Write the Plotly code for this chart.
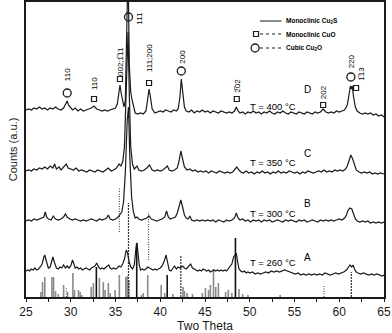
import plotly.graph_objects as go

# ---------------- data (counts in arbitrary units) ----------------
D_pts = [(25.0,187),(25.3,188),(25.6,187),(25.9,189),(26.2,188),(26.5,190),(26.8,188),(27.1,189),(27.4,187),(27.7,189),
(28.0,188),(28.3,190),(28.6,188),(28.9,187),(29.2,189),(29.45,193),(29.6,196),(29.75,192),(29.95,190),(30.2,187),(30.5,189),
(30.8,186),(31.1,188),(31.4,186),(31.7,187),(32.0,188),(32.3,189),(32.6,191),(32.9,188),(33.2,187),(33.5,186),(33.8,187),
(34.1,186),(34.4,187),(34.7,188),(35.0,189),(35.2,193),(35.4,207),(35.5,212),(35.65,203),(35.85,191),(35.95,190),(36.1,197),
(36.25,240),(36.4,330),(36.55,230),(36.7,205),(36.85,197),(37.0,190),(37.2,184),(37.5,183),(37.8,184),(38.1,183),(38.4,186),
(38.6,198),(38.75,208),(38.9,200),(39.1,188),(39.4,184),(39.7,185),(40.0,186),(40.3,185),(40.6,187),(40.9,186),(41.2,185),
(41.5,187),(41.8,186),(42.0,188),(42.2,200),(42.35,218),(42.5,205),(42.7,190),(42.9,186),(43.2,185),(43.5,187),(43.8,184),
(44.1,186),(44.4,185),(44.7,187),(45.0,185),(45.3,186),(45.6,184),(45.9,186),(46.2,185),(46.5,184),(46.8,186),(47.1,185),
(47.4,184),(47.7,185),(48.0,184),(48.3,186),(48.5,190),(48.7,186),(48.9,184),(49.2,185),(49.5,183),(49.8,185),(50.1,184),
(50.4,186),(50.7,184),(51.0,185),(51.3,183),(51.6,185),(51.9,184),(52.2,186),(52.5,184),(52.8,183),(53.1,185),(53.4,184),
(53.7,186),(54.0,184),(54.3,183),(54.6,185),(54.9,184),(55.2,183),(55.5,185),(55.8,184),(56.1,183),(56.4,185),(56.7,184),
(57.0,183),(57.3,185),(57.6,184),(57.9,185),(58.2,188),(58.5,185),(58.8,184),(59.1,185),(59.4,184),(59.7,186),(60.0,185),
(60.3,186),(60.6,187),(60.9,192),(61.1,202),(61.25,211),(61.35,208),(61.45,211),(61.6,200),(61.8,190),(62.0,186),(62.3,184),
(62.6,183),(62.9,184),(63.2,183),(63.5,184),(63.8,182),(64.1,183),(64.4,181),(64.7,182),(65.0,180)]

C_pts = [(25.0,126),(25.3,127),(25.6,126),(25.9,128),(26.2,127),(26.5,129),(26.8,128),(27.1,130),(27.4,128),(27.7,131),
(28.0,129),(28.2,133),(28.4,128),(28.7,130),(28.9,127),(29.2,130),(29.5,133),(29.7,129),(30.0,128),(30.3,127),(30.6,129),
(30.9,126),(31.2,127),(31.5,126),(31.8,125),(32.1,127),(32.4,126),(32.7,125),(33.0,127),(33.3,126),(33.6,125),(33.9,127),
(34.2,129),(34.5,126),(34.8,127),(35.1,129),(35.4,133),(35.6,131),(35.8,135),(36.0,150),(36.2,200),(36.4,265),(36.55,200),
(36.7,150),(36.9,133),(37.1,128),(37.4,131),(37.6,127),(37.9,126),(38.2,127),(38.5,129),(38.8,132),(39.1,127),(39.4,126),
(39.7,127),(40.0,126),(40.3,127),(40.6,129),(40.8,131),(41.0,127),(41.3,126),(41.6,127),(41.9,129),(42.1,136),(42.3,146),
(42.5,138),(42.7,130),(43.0,127),(43.3,128),(43.6,126),(43.9,127),(44.2,125),(44.5,126),(44.8,125),(45.1,126),(45.4,124),
(45.7,126),(46.0,125),(46.3,124),(46.6,126),(46.9,125),(47.2,124),(47.5,125),(47.8,124),(48.1,125),(48.4,128),(48.55,130),
(48.8,127),(49.0,125),(49.3,124),(49.6,126),(49.9,124),(50.2,125),(50.5,123),(50.8,125),(51.1,124),(51.4,126),(51.7,124),
(52.0,125),(52.3,123),(52.6,125),(52.9,124),(53.2,126),(53.5,124),(53.8,125),(54.1,124),(54.4,126),(54.7,125),(55.0,124),
(55.3,125),(55.6,123),(55.9,125),(56.2,124),(56.5,126),(56.8,125),(57.1,124),(57.4,125),(57.7,126),(58.0,125),(58.3,127),
(58.6,125),(58.9,126),(59.2,125),(59.5,127),(59.8,126),(60.1,127),(60.4,126),(60.7,128),(60.9,131),(61.1,137),(61.3,142),
(61.5,138),(61.7,131),(61.9,127),(62.2,125),(62.5,124),(62.8,125),(63.1,124),(63.4,125),(63.7,123),(64.0,124),(64.3,123),
(64.6,124),(65.0,123)]

B_pts = [(25.0,76),(25.3,77),(25.6,76),(25.9,78),(26.2,77),(26.5,78),(26.8,79),(27.0,80),(27.15,85),(27.3,80),(27.5,78),
(27.8,77),(28.05,81),(28.3,78),(28.6,77),(28.9,78),(29.2,80),(29.4,83),(29.6,80),(29.9,78),(30.2,77),(30.5,78),(30.8,77),
(31.1,76),(31.4,77),(31.7,76),(32.0,77),(32.3,78),(32.6,77),(32.9,76),(33.2,78),(33.5,77),(33.8,78),(34.0,79),(34.2,82),
(34.4,78),(34.7,77),(35.0,78),(35.3,80),(35.5,83),(35.7,85),(35.9,95),(36.1,125),(36.3,175),(36.45,190),(36.6,140),(36.8,100),
(37.0,85),(37.2,79),(37.4,80),(37.6,78),(37.9,77),(38.2,78),(38.5,79),(38.75,81),(39.0,78),(39.3,77),(39.6,76),(39.9,77),
(40.2,78),(40.5,80),(40.7,86),(40.9,80),(41.1,78),(41.4,79),(41.7,80),(41.9,84),(42.1,92),(42.3,97),(42.5,90),(42.7,82),
(42.9,79),(43.1,78),(43.3,81),(43.5,77),(43.8,76),(44.1,77),(44.4,76),(44.7,77),(45.0,76),(45.3,77),(45.6,76),(45.9,77),
(46.2,75),(46.5,77),(46.8,76),(47.1,75),(47.4,77),(47.7,76),(48.0,77),(48.3,79),(48.5,84),(48.7,79),(48.9,77),(49.2,78),
(49.5,76),(49.8,77),(50.1,75),(50.4,77),(50.7,76),(51.0,77),(51.3,75),(51.6,77),(51.9,76),(52.2,77),(52.5,75),(52.8,76),
(53.1,77),(53.4,76),(53.7,75),(54.0,77),(54.3,76),(54.6,77),(54.9,76),(55.2,75),(55.5,77),(55.8,76),(56.1,77),(56.4,75),
(56.7,76),(57.0,77),(57.3,76),(57.6,75),(57.9,77),(58.2,76),(58.5,77),(58.8,76),(59.1,77),(59.4,76),(59.7,77),(60.0,78),
(60.3,77),(60.6,79),(60.8,82),(61.0,87),(61.2,89),(61.4,88),(61.6,83),(61.8,78),(62.0,76),(62.3,75),(62.6,76),(62.9,75),
(63.2,76),(63.5,74),(63.8,75),(64.1,74),(64.4,75),(64.7,74),(65.0,75)]

A_pts = [(25.0,26),(25.2,27),(25.4,26),(25.6,28),(25.8,27),(26.0,29),(26.2,27),(26.4,28),(26.6,30),(26.8,33),(27.0,40),
(27.1,42),(27.3,35),(27.5,29),(27.7,30),(27.85,36),(28.0,40),(28.2,34),(28.4,29),(28.6,28),(28.8,30),(29.0,29),(29.2,32),
(29.4,29),(29.6,31),(29.8,29),(30.0,31),(30.2,37),(30.35,33),(30.5,29),(30.7,30),(30.9,28),(31.1,29),(31.3,27),(31.5,28),
(31.7,29),(31.9,28),(32.1,27),(32.3,29),(32.5,30),(32.7,31),(32.9,34),(33.1,30),(33.3,28),(33.5,29),(33.7,28),(33.9,30),
(34.1,31),(34.25,32),(34.4,29),(34.6,28),(34.8,29),(35.0,28),(35.2,29),(35.4,31),(35.6,30),(35.8,33),(36.0,38),(36.2,47),
(36.35,44),(36.5,36),(36.7,30),(36.9,28),(37.1,32),(37.3,50),(37.4,54),(37.5,45),(37.65,32),(37.8,27),(38.0,28),(38.2,27),
(38.4,28),(38.6,30),(38.8,29),(39.0,28),(39.2,27),(39.4,28),(39.6,27),(39.8,28),(40.0,29),(40.2,31),(40.45,36),(40.65,42),
(40.85,34),(41.0,27),(41.2,26),(41.4,29),(41.6,31),(41.8,28),(42.0,30),(42.2,29),(42.5,31),(42.7,29),(42.9,28),(43.1,30),
(43.4,33),(43.6,29),(43.8,28),(44.0,27),(44.2,26),(44.4,27),(44.6,26),(44.8,28),(45.0,27),(45.2,26),(45.4,27),(45.6,25),
(45.8,26),(46.0,27),(46.2,26),(46.4,27),(46.6,26),(46.8,27),(47.0,26),(47.2,27),(47.4,26),(47.6,28),(47.8,30),(48.0,33),
(48.2,40),(48.35,42),(48.5,44),(48.65,35),(48.8,28),(49.0,26),(49.2,25),(49.4,26),(49.6,24),(49.8,25),(50.0,24),(50.3,25),
(50.6,23),(50.9,24),(51.2,23),(51.5,24),(51.8,25),(52.1,24),(52.4,26),(52.7,25),(53.0,26),(53.3,25),(53.6,26),(53.9,27),
(54.2,26),(54.5,25),(54.8,24),(55.1,23),(55.4,24),(55.7,22),(56.0,23),(56.3,22),(56.6,23),(56.9,22),(57.2,23),(57.5,22),
(57.8,23),(58.1,22),(58.4,24),(58.7,23),(59.0,22),(59.3,23),(59.6,24),(59.9,23),(60.2,24),(60.5,25),(60.8,27),(61.0,29),
(61.2,32),(61.4,30),(61.55,32),(61.7,28),(61.9,25),(62.1,24),(62.4,23),(62.7,24),(63.0,23),(63.3,22),(63.6,23),(63.9,22),
(64.2,23),(64.5,22),(64.8,21),(65.0,22)]

# reference stick pattern (Cu2S, grey), strong Cu2S lines (black)
stick_theta = [26.67,26.85,27.1,27.9,28.08,28.3,28.6,29.2,29.65,30.24,30.42,30.86,31.05,31.24,32.28,32.53,33.2,33.64,33.83,
               34.2,34.4,34.95,35.43,36.15,36.3,36.5,37.9,38.1,38.6,40.1,40.5,41.4,42.55,42.7,43.0,43.6,44.7,45.05,45.4,45.6,
               45.95,46.2,46.5,47.3,47.6,48.0,48.8,49.2,49.8,53.4]
stick_h = [5,15,20,20,20,6,3,12,5,24,7,7,5,2,10,14,19,15,7,14,4,7,22,20,21,17,2,4,22,12,4,3,10,6,4,3,4,9,7,12,28,10,14,5,7,4,8,3,2,2]
strong_theta = [32.86,37.37,40.78,48.4]
strong_h = [30,54,22,59]

# CuO (dotted) and Cu2O (dashed) reference line segments: theta, bottom, top
cuo_theta = [29.5,35.43,38.7,58.3]
cuo_low = [0,65,37,0]
cuo_high = [10,110,85,12]
cu2o_theta = [36.45,42.3,61.35]
cu2o_low = [0,0,0]
cu2o_high = [94,42,25]

# peak markers on curve D
sq_theta = [32.6,35.5,38.75,48.55,58.2,61.88]
sq_h = [198,218,214,198,192,209]
ci_theta = [29.6,36.45,42.35,61.3]
ci_h = [204,280,226,220]
hkl_text = ["110","110","002;1\u030511","111","111;200","200","2\u030502","202","220","1\u030513"]
hkl_theta = [29.6,32.6,35.5,37.65,38.75,42.4,48.55,58.2,61.35,62.45]
hkl_h = [222,213,236,278.5,239,240,211,205,236,223.5]

temps = ["T = 400 \u00b0C","T = 350 \u00b0C","T = 300 \u00b0C","T = 260 \u00b0C"]
temp_h = [191,135,84,35]
letters = ["D","C","B","A"]
letter_h = [208,144,94,40]

# ---------------- figure ----------------
fig = go.Figure()
INK = "#1a1a1a"

def seg(theta, lo, hi):
    xs, ys = [], []
    for t, a, b in zip(theta, lo, hi):
        xs += [t, t, None]
        ys += [a, b, None]
    return xs, ys

x, y = seg(stick_theta, [0]*len(stick_theta), stick_h)
fig.add_trace(go.Scatter(x=x, y=y, mode="lines", line=dict(color="#8a8a8a", width=1.6), hoverinfo="skip"))
x, y = seg(strong_theta, [0]*len(strong_theta), strong_h)
fig.add_trace(go.Scatter(x=x, y=y, mode="lines", line=dict(color="#111", width=1.6), hoverinfo="skip"))
x, y = seg(cuo_theta, cuo_low, cuo_high)
fig.add_trace(go.Scatter(x=x, y=y, mode="lines", line=dict(color="#333", width=1, dash="1px,1.5px"), hoverinfo="skip"))
x, y = seg(cu2o_theta, cu2o_low, cu2o_high)
fig.add_trace(go.Scatter(x=x, y=y, mode="lines", line=dict(color="#333", width=1.2, dash="2px,1px"), hoverinfo="skip"))

for pts in (A_pts, B_pts, C_pts, D_pts):
    fig.add_trace(go.Scatter(x=[p[0] for p in pts], y=[p[1] for p in pts], mode="lines",
                             line=dict(color=INK, width=1.2), hoverinfo="skip"))

fig.add_trace(go.Scatter(x=sq_theta, y=sq_h, mode="markers",
                         marker=dict(symbol="square-open", size=5, color=INK, line=dict(width=1.2))))
fig.add_trace(go.Scatter(x=ci_theta, y=ci_h, mode="markers",
                         marker=dict(symbol="circle-open", size=8, color=INK, line=dict(width=1.3))))

for t, xx, yy in zip(hkl_text, hkl_theta, hkl_h):
    fig.add_annotation(x=xx, y=yy, text=t, showarrow=False, textangle=-90,
                       font=dict(size=8, color="black", family="Arial"))
for t, yy in zip(temps, temp_h):
    fig.add_annotation(x=52.6, y=yy, text=t, showarrow=False, font=dict(size=9.5, color="black", family="Arial"))
for t, yy in zip(letters, letter_h):
    fig.add_annotation(x=56.5, y=yy, text=t, showarrow=False, font=dict(size=10, color="black", family="Arial"))

# legend (drawn inside plot)
leg_text = ["Monoclinic Cu<sub>2</sub>S", "Monoclinic CuO", "Cubic Cu<sub>2</sub>O"]
leg_h = [276, 263, 249]
leg_dash = ["solid", "dot", "dot"]
for t, yy, dsh in zip(leg_text, leg_h, leg_dash):
    fig.add_shape(type="line", x0=51.15, x1=53.55, y0=yy, y1=yy, line=dict(color=INK, width=1, dash=dsh))
    fig.add_annotation(x=53.8, y=yy, text="<b>" + t + "</b>", xanchor="left", showarrow=False,
                       font=dict(size=6.5, color="black", family="Arial"))
fig.add_trace(go.Scatter(x=[50.7], y=[leg_h[1]], mode="markers",
                         marker=dict(symbol="square-open", size=5, color=INK, line=dict(width=1.2))))
fig.add_trace(go.Scatter(x=[50.6], y=[leg_h[2]], mode="markers",
                         marker=dict(symbol="circle-open", size=8, color=INK, line=dict(width=1.3))))

fig.update_layout(
    width=392, height=333, showlegend=False,
    paper_bgcolor="white", plot_bgcolor="white",
    margin=dict(l=26, r=8, t=2, b=36, autoexpand=False),
    font=dict(family="Arial", color=INK),
)
fig.update_xaxes(range=[25, 65], tickvals=[25, 30, 35, 40, 45, 50, 55, 60, 65], automargin=False,
                 ticks="outside", ticklen=3, tickwidth=1, tickcolor=INK,
                 minor=dict(dtick=2.5, ticks="outside", ticklen=3, tickcolor=INK),
                 showline=True, mirror=True, linecolor=INK, linewidth=1.5, showgrid=False, zeroline=False,
                 tickfont=dict(size=12), title=dict(text="Two Theta", font=dict(size=12), standoff=3))
fig.update_yaxes(range=[0, 295], showticklabels=False, ticks="", showline=True, mirror=True, automargin=False,
                 linecolor=INK, linewidth=1.5, showgrid=False, zeroline=False,
                 title=dict(text="Counts (a.u.)", font=dict(size=11), standoff=4))

fig.write_html("out.html", config={"displayModeBar": False},
               post_script="document.body.style.margin='0px';document.body.style.overflow='hidden';")
